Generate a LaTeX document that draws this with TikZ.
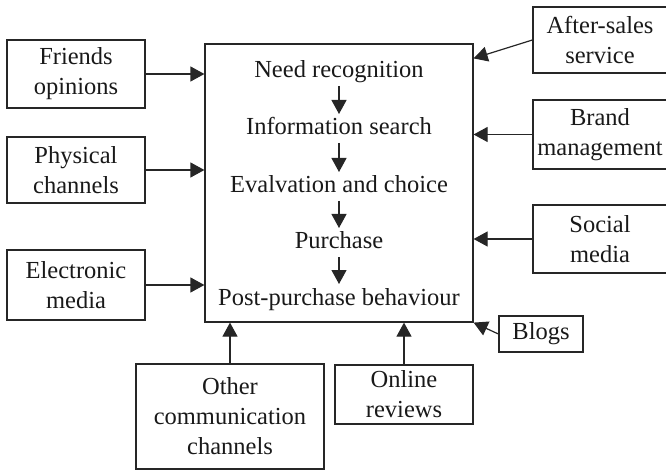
\documentclass[tikz,border=0pt]{standalone}
\usepackage{fontspec}
\setmainfont{Liberation Serif}
\usetikzlibrary{arrows.meta}
\begin{document}
\begin{tikzpicture}[x=1pt,y=-1pt,
  every node/.style={font=\fontsize{24.5pt}{30pt}\selectfont, text=black!90},
  box/.style={draw=black!85, line width=1.2pt, align=center, inner sep=0pt},
  lbl/.style={inner sep=0pt, anchor=base},
  arr/.style={draw=black!85, line width=1.2pt, -{Triangle[length=14pt,width=15pt]}}]
\useasboundingbox (0,0) rectangle (666,470);
\clip (0,0) rectangle (666,470);
% main box
\node[box, minimum width=268pt, minimum height=278pt] (main) at (339,183) {};
\node[lbl] (n1) at (339,78) {Need recognition};
\node[lbl] (n2) at (339,135) {Information search};
\node[lbl] (n3) at (339,193) {Evalvation and choice};
\node[lbl] (n4) at (339,249) {Purchase};
\node[lbl] (n5) at (339,305) {Post-purchase behaviour};
\draw[arr] ([yshift=-8pt]n1.base) -- ([yshift=21pt]n2.base);
\draw[arr] ([yshift=-8pt]n2.base) -- ([yshift=21pt]n3.base);
\draw[arr] ([yshift=-8pt]n3.base) -- ([yshift=21pt]n4.base);
\draw[arr] ([yshift=-8pt]n4.base) -- ([yshift=21pt]n5.base);
% left boxes
\node[box, minimum width=138pt, minimum height=68pt] (friends) at (76,74) {Friends\\opinions};
\node[box, minimum width=138pt, minimum height=66pt] (physical) at (76,170) {Physical\\channels};
\node[box, minimum width=138pt, minimum height=70pt] (electronic) at (76,285) {Electronic\\media};
% bottom boxes
\node[box, minimum width=188pt, minimum height=105pt] (other) at (230,416.5) {Other\\communication\\channels};
\node[box, minimum width=138pt, minimum height=59pt] (online) at (404,394.5) {Online\\reviews};
\node[box, minimum width=84pt, minimum height=36pt] (blogs) at (541,334) {Blogs};
% right boxes
\node[box, minimum width=134pt, minimum height=66pt] (after) at (600,40) {After-sales\\service};
\node[box, minimum width=134pt, minimum height=69pt] (brand) at (600,134.5) {Brand\\management};
\node[box, minimum width=134pt, minimum height=68pt] (social) at (600,239) {Social\\media};
% connectors
\draw[arr] (friends.east) -- (friends.east -| main.west);
\draw[arr] (physical.east) -- (physical.east -| main.west);
\draw[arr] (electronic.east) -- (electronic.east -| main.west);
\draw[arr] (other.north) -- (other.north |- main.south);
\draw[arr] (online.north) -- (online.north |- main.south);
\draw[arr] (blogs.west) -- (main.south east);
\draw[arr] (after.west) -- ([yshift=-15pt]main.north east);
\draw[arr] (brand.west) -- (brand.west -| main.east);
\draw[arr] (social.west) -- (social.west -| main.east);
\end{tikzpicture}
\end{document}
